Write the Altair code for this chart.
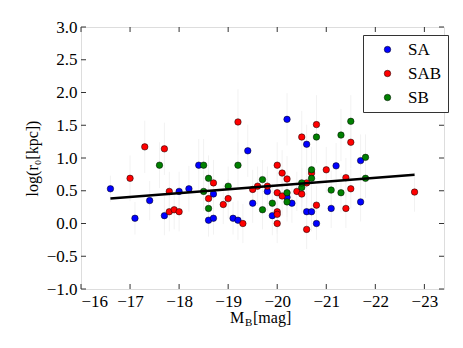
import altair as alt
import pandas as pd

# ---- data ----
sa_x = [-16.6, -17.1, -17.4, -17.7, -18.0, -18.2, -18.4, -18.6, -18.7, -18.7, -19.1, -19.2, -19.4, -19.5,
        -19.8, -19.9, -20.2, -20.2, -20.3, -20.6, -20.6, -20.7, -20.8, -21.1, -21.2, -21.7, -21.7]
sa_y = [0.53, 0.08, 0.35, 0.12, 0.49, 0.53, 0.89, 0.05, 0.45, 0.08, 0.08, 0.05, 1.11, 0.31,
        0.49, 0.12, 1.59, 0.40, 0.31, 1.21, 0.18, 0.18, 0.00, 0.23, 0.88, 0.96, 0.33]
sa_err = [0.2, 0.25, 0.3, 0.3, 0.3, 0.35, 0.4, 0.25, 0.3, 0.25, 0.25, 0.3, 0.4, 0.3,
          0.3, 0.3, 0.4, 0.3, 0.3, 0.3, 0.3, 0.3, 0.25, 0.3, 0.35, 0.4, 0.3]

sab_x = [-17.0, -17.3, -17.7, -17.8, -17.8, -17.9, -18.0, -18.6, -18.7, -18.9, -19.0, -19.2, -19.3, -19.5,
         -19.6, -19.8, -20.0, -20.0, -20.0, -20.0, -20.0, -20.1, -20.1, -20.2, -20.4, -20.5, -20.5, -20.6,
         -20.6, -20.7, -20.8, -20.8, -21.0, -21.4, -21.4, -21.5, -21.5, -22.8]
sab_y = [0.69, 1.17, 1.14, 0.49, 0.18, 0.21, 0.18, 0.38, 0.62, 0.29, 0.38, 1.55, 0.00, 0.52,
         0.57, 0.57, 0.89, 0.47, 0.18, 0.14, 0.00, 0.77, 0.42, 0.68, 0.49, 1.32, 0.45, 0.62,
         -0.09, 0.77, 1.51, 0.28, 0.82, 0.70, 0.23, 1.24, 0.53, 0.48]
sab_err = [0.35, 0.4, 0.4, 0.3, 0.3, 0.3, 0.3, 0.3, 0.35, 0.3, 0.3, 0.5, 0.3, 0.3,
           0.3, 0.3, 0.35, 0.3, 0.3, 0.3, 0.3, 0.35, 0.3, 0.35, 0.3, 0.4, 0.3, 0.3,
           0.3, 0.35, 0.45, 0.3, 0.35, 0.3, 0.3, 0.4, 0.3, 0.3]

sb_x = [-17.6, -18.5, -18.5, -18.6, -18.6, -19.0, -19.2, -19.7, -19.7, -19.9, -20.2, -20.2, -20.5, -20.5,
        -20.7, -20.7, -20.8, -21.1, -21.3, -21.3, -21.5, -21.8, -21.8]
sb_y = [0.89, 0.89, 0.49, 0.69, 0.23, 0.57, 0.89, 0.67, 0.21, 0.31, 0.47, 0.33, 0.55, 0.62,
        0.82, 0.69, 1.32, 0.51, 1.35, 0.47, 1.56, 1.01, 0.69]
sb_err = [0.35, 0.4, 0.3, 0.35, 0.3, 0.3, 0.35, 0.3, 0.3, 0.3, 0.3, 0.3, 0.3, 0.3,
          0.35, 0.3, 0.4, 0.3, 0.4, 0.3, 0.4, 0.35, 0.3]

fit_x = [-16.6, -22.8]
fit_y = [0.38, 0.745]

series = ["SA", "SAB", "SB"]
colors = ["#0000ff", "#ff0000", "#008000"]
x_ticks = [-16, -17, -18, -19, -20, -21, -22, -23]
y_ticks = [-1.0, -0.5, 0.0, 0.5, 1.0, 1.5, 2.0, 2.5, 3.0]

rows = []
for name, xs, ys, es in [("SA", sa_x, sa_y, sa_err), ("SAB", sab_x, sab_y, sab_err), ("SB", sb_x, sb_y, sb_err)]:
    for x, y, e in zip(xs, ys, es):
        rows.append({"MB": x, "r0": y, "lo": y - e, "hi": y + e, "type": name})
pts = pd.DataFrame(rows)
fit = pd.DataFrame({"MB": fit_x, "r0": fit_y})
xt = pd.DataFrame({"MB": x_ticks})
yt = pd.DataFrame({"r0": y_ticks})

FONT = "Liberation Serif"
W, H = 363, 262

xscale = alt.Scale(domain=[-16, -23.4], nice=False, zero=False)
yscale = alt.Scale(domain=[-1.0, 3.0], nice=False, zero=False)

xaxis = alt.Axis(values=x_ticks, format="d", title=None, grid=False, domain=False, ticks=False,
                 labelFont=FONT, labelFontSize=17, labelColor="black", labelPadding=4,
                 labelOverlap=False)
yaxis = alt.Axis(values=y_ticks, format=".1f", title="log(r₀[kpc])", grid=False, domain=False,
                 ticks=False, labelFont=FONT, labelFontSize=17, labelColor="black", labelPadding=4,
                 labelOverlap=False, titleFont=FONT, titleFontSize=16, titleFontWeight="normal",
                 titleColor="black", titlePadding=6)

X = alt.X("MB:Q", scale=xscale, axis=xaxis)

err = alt.Chart(pts).mark_rule(color="#f2f2f2", strokeWidth=1).encode(
    x=X, y=alt.Y("lo:Q", scale=yscale, axis=yaxis), y2="hi:Q",
)

points = alt.Chart(pts).mark_circle(size=42, stroke="black", strokeWidth=0.5, opacity=1).encode(
    x=X,
    y=alt.Y("r0:Q", scale=yscale, axis=yaxis),
    color=alt.Color("type:N", scale=alt.Scale(domain=series, range=colors),
                    legend=alt.Legend(title=None, orient="none", legendX=282, legendY=8,
                                      labelFont=FONT, labelFontSize=17, labelColor="black",
                                      symbolType="circle", symbolSize=42, symbolStrokeColor="black",
                                      symbolStrokeWidth=0.5, symbolOffset=10, labelOffset=12,
                                      rowPadding=6, padding=6, strokeColor="#333",
                                      fillColor="white", cornerRadius=0)),
)

line = alt.Chart(fit).mark_line(color="black", strokeWidth=2.5).encode(
    x=X, y=alt.Y("r0:Q", scale=yscale, axis=yaxis),
)

# inward ticks on all four frame edges
tick_style = dict(color="#333", strokeWidth=1)
top_ticks = alt.Chart(xt).mark_rule(**tick_style).encode(x=X, y=alt.value(0), y2=alt.value(5))
bottom_ticks = alt.Chart(xt).mark_rule(**tick_style).encode(x=X, y=alt.value(H - 5), y2=alt.value(H))
left_ticks = alt.Chart(yt).mark_rule(**tick_style).encode(
    y=alt.Y("r0:Q", scale=yscale, axis=yaxis), x=alt.value(0), x2=alt.value(5))
right_ticks = alt.Chart(yt).mark_rule(**tick_style).encode(
    y=alt.Y("r0:Q", scale=yscale, axis=yaxis), x=alt.value(W - 5), x2=alt.value(W))

# x-axis title "M_B[mag]" with a subscript B
x_title_parts = ["M", "B", "[mag]"]
t_m = alt.Chart(pd.DataFrame({"t": [x_title_parts[0]]})).mark_text(
    font=FONT, fontSize=16, align="left", baseline="alphabetic", color="black"
).encode(text="t:N", x=alt.value(149), y=alt.value(296))
t_b = alt.Chart(pd.DataFrame({"t": [x_title_parts[1]]})).mark_text(
    font=FONT, fontSize=11, align="left", baseline="alphabetic", color="black"
).encode(text="t:N", x=alt.value(164), y=alt.value(299))
t_mag = alt.Chart(pd.DataFrame({"t": [x_title_parts[2]]})).mark_text(
    font=FONT, fontSize=16, align="left", baseline="alphabetic", color="black"
).encode(text="t:N", x=alt.value(172), y=alt.value(296))

chart = alt.layer(err, points, line, top_ticks, bottom_ticks, left_ticks, right_ticks,
                  t_m, t_b, t_mag).properties(
    width=W, height=H,
    autosize=alt.AutoSizeParams(type="none"),
    padding={"left": 73, "top": 19, "right": 11, "bottom": 53},
).configure_view(stroke="#333", strokeWidth=1).configure(
    background="white", font=FONT
).configure_axis(labelFont=FONT, titleFont=FONT, labelFontSize=17, labelOverlap=False
).configure_legend(labelFont=FONT)

chart.save("out.html", embed_options={"renderer": "svg", "actions": False})
